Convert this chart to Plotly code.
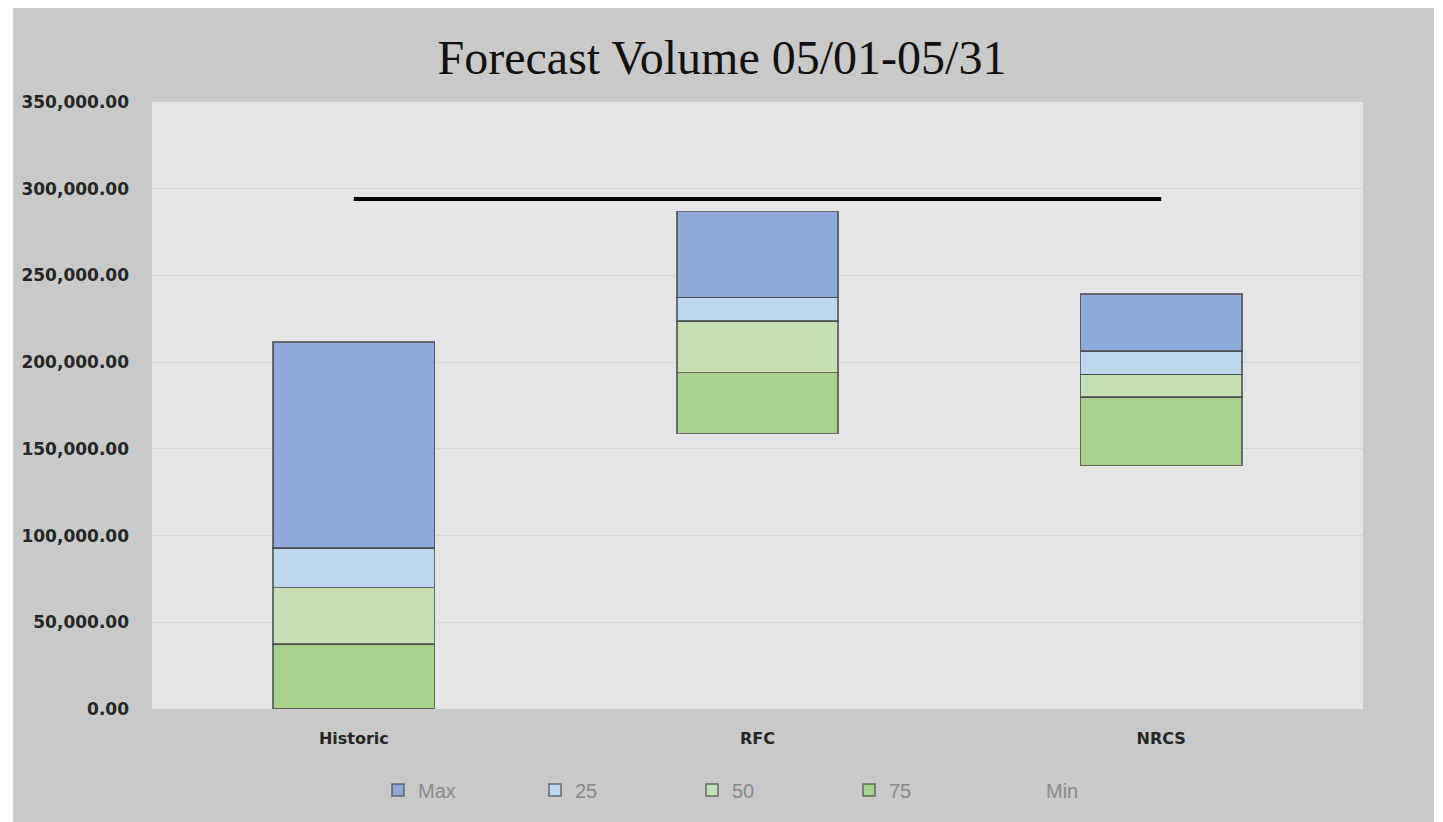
import plotly.graph_objects as go

categories = ["Historic", "RFC", "NRCS"]
# cumulative levels
min_vals = [0, 159000, 140300]
p75_vals = [37500, 194000, 179800]
p50_vals = [70000, 223800, 193000]
p25_vals = [92700, 237400, 206500]
max_vals = [211500, 286800, 239200]
target_vals = [294100, 294100, 294100]
y_ticks = [0, 50000, 100000, 150000, 200000, 250000, 300000, 350000]

def seg(top, bottom):
    return [t - b for t, b in zip(top, bottom)]

edge = dict(color="rgba(70,70,70,0.75)", width=1.5)
fig = go.Figure()
fig.add_bar(x=categories, y=min_vals, name="Min",
            marker=dict(color="rgba(0,0,0,0)", line=dict(width=0)))
fig.add_bar(x=categories, y=seg(p75_vals, min_vals), name="75",
            marker=dict(color="#a9d18e", line=edge))
fig.add_bar(x=categories, y=seg(p50_vals, p75_vals), name="50",
            marker=dict(color="#c5e0b4", line=edge))
fig.add_bar(x=categories, y=seg(p25_vals, p50_vals), name="25",
            marker=dict(color="#bdd7ee", line=edge))
fig.add_bar(x=categories, y=seg(max_vals, p25_vals), name="Max",
            marker=dict(color="#8eaadb", line=edge))
fig.add_scatter(x=categories, y=target_vals, mode="lines",
                line=dict(color="black", width=4), showlegend=False,
                hoverinfo="skip")

# page body adds an 8px offset; work in reference-screen coordinates
OFF = 8
W, H = 1443 - OFF, 822 - OFF
plot_l, plot_r, plot_t, plot_b = 152, 1363, 102, 709
L = plot_l - OFF
R = (1443 - plot_r)
T = plot_t - OFF
B = 822 - plot_b
pw, ph = plot_r - plot_l, plot_b - plot_t

def px(x):  # reference screen x -> paper
    return (x - plot_l) / pw

def py(y):  # reference screen y -> paper
    return (plot_b - y) / ph

shapes = [
    dict(type="rect", xref="paper", yref="paper", x0=px(0), x1=px(13), y0=py(900), y1=py(0),
         fillcolor="white", line=dict(width=0)),
    dict(type="rect", xref="paper", yref="paper", x0=px(1434), x1=px(1500), y0=py(900), y1=py(0),
         fillcolor="white", line=dict(width=0)),
]

fig.update_layout(
    width=W, height=H,
    margin=dict(l=L, r=R, t=T, b=B),
    barmode="stack", bargap=0.6,
    paper_bgcolor="#c9c9c9", plot_bgcolor="#e5e5e5",
    title=dict(text="Forecast Volume 05/01-05/31", x=(722 - OFF) / W, xref="container",
               xanchor="center", y=1 - (57 - OFF) / H, yref="container", yanchor="middle",
               font=dict(family="Liberation Serif", size=48, color="#111111")),
    xaxis=dict(showgrid=False, zeroline=False, showline=False, ticks="",
               ticklabelstandoff=18,
               tickfont=dict(family="DejaVu Sans", size=16, color="#262626", weight="bold")),
    yaxis=dict(range=[0, 350000], tickvals=y_ticks, tickformat=",.2f",
               showgrid=True, gridcolor="#d5d5d5", gridwidth=1,
               zeroline=False, showline=False, ticks="", ticklabelstandoff=22,
               tickfont=dict(family="DejaVu Sans", size=17, color="#262626", weight="bold")),
    legend=dict(orientation="h", traceorder="reversed", x=px(378), xanchor="left",
                y=py(790), yanchor="middle", bgcolor="rgba(0,0,0,0)",
                entrywidth=112, entrywidthmode="pixels",
                font=dict(family="Liberation Sans", size=20, color="#8a8a8a")),
    shapes=shapes,
    showlegend=True,
)

fig.write_html("out.html")
